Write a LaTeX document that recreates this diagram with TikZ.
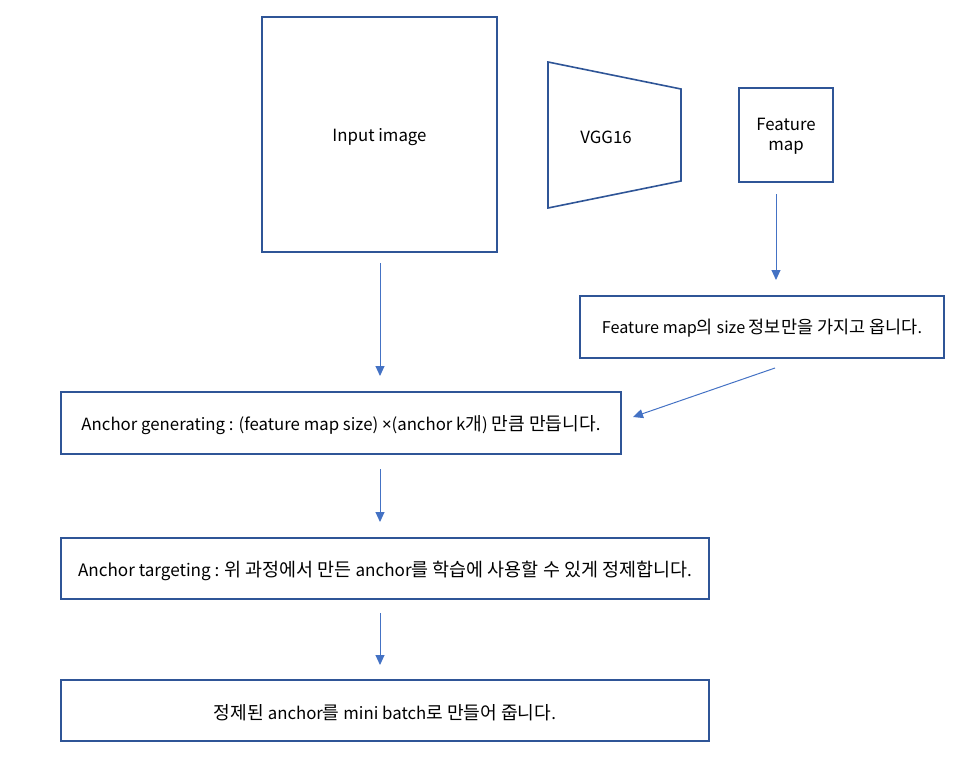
\documentclass[tikz,border=0pt]{standalone}
\usepackage{fontspec}
\setmainfont{Noto Sans CJK KR}
\newfontfamily\latinf{Noto Sans}
\newfontfamily\krf[Scale=1.08]{Noto Sans CJK KR}
\newcommand{\kr}[1]{{\krf #1}}
\usetikzlibrary{arrows.meta}
\definecolor{boxc}{HTML}{2F5597}
\definecolor{arrc}{HTML}{4472C4}
\begin{document}
\begin{tikzpicture}[x=1pt,y=-1pt,
  box/.style={draw=boxc,line width=1.6pt,fill=white},
  lbl/.style={font=\fontsize{16.8}{20}\selectfont,text=black,align=center,inner sep=0pt},
  conn/.style={draw=arrc,line width=1pt,-{Triangle[length=10pt,width=9pt]}}]
\useasboundingbox (0,0) rectangle (970,779);
% boxes
\draw[box] (262,17) rectangle (497,252);
\node[lbl] (input) at (379.5,137) {Input image};
\coordinate (inS) at (380,252);
\draw[box] (548,62) -- (681,89) -- (681,181) -- (548,208) -- cycle;
\node[lbl] (vgg) at (606,137.5) {VGG16};
\draw[box] (739,88) rectangle (833,182);
\node[lbl] (fmap) at (786,136) {Feature\\map};
\coordinate (fmS) at (776,182);
\draw[box] (580,296) rectangle (944,358);
\node[lbl,font=\fontsize{16.2}{20}\selectfont] (fms) at (762,328) {Feature map\kr{의} size \kr{정보만을 가지고 옵니다}.};
\coordinate (fmsT) at (776,296);
\coordinate (fmsB) at (775,368);
\draw[box] (61,392) rectangle (621,454);
\node[lbl] (gen) at (341,425) {Anchor generating : (feature map size) {\latinf ×}(anchor k\kr{개}) \kr{만큼 만듭니다}.};
\coordinate (genT) at (380,392);
\coordinate (genB) at (380,454);
\coordinate (genE) at (633,417);
\draw[box] (61,538) rectangle (709,599);
\node[lbl,font=\fontsize{17.1}{20}\selectfont] (tgt) at (385,571) {Anchor targeting : \kr{위 과정에서 만든} anchor\kr{를 학습에 사용할 수 있게 정제합니다}.};
\coordinate (tgtT) at (380,538);
\coordinate (tgtB) at (380,599);
\draw[box] (61,680) rectangle (709,741);
\node[lbl] (mb) at (385,712.5) {\kr{정제된} anchor\kr{를} mini batch\kr{로 만들어 줍니다}.};
\coordinate (mbT) at (380,680);
% connectors
\draw[conn,shorten <=11pt,shorten >=16pt] (inS) -- (genT);
\draw[conn,shorten <=12pt,shorten >=16pt] (fmS) -- (fmsT);
\draw[conn] (fmsB) -- (genE);
\draw[conn,shorten <=15pt,shorten >=16pt] (genB) -- (tgtT);
\draw[conn,shorten <=14pt,shorten >=15pt] (tgtB) -- (mbT);
\end{tikzpicture}
\end{document}
